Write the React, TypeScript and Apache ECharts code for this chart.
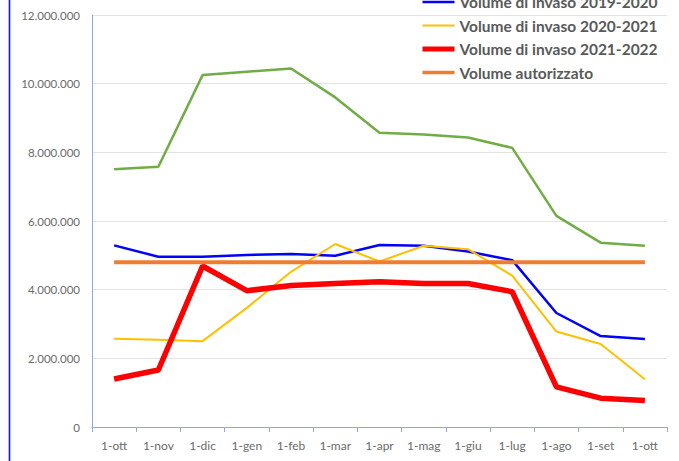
import React, { useEffect, useRef } from "react";
import * as echarts from "echarts";

const categories = ["1-ott", "1-nov", "1-dic", "1-gen", "1-feb", "1-mar", "1-apr", "1-mag", "1-giu", "1-lug", "1-ago", "1-set", "1-ott"];
const green2018 = [7510000, 7580000, 10250000, 10350000, 10440000, 9600000, 8570000, 8520000, 8430000, 8130000, 6150000, 5370000, 5280000];
const blue2019 = [5290000, 4960000, 4960000, 5010000, 5040000, 4990000, 5300000, 5280000, 5110000, 4860000, 3320000, 2650000, 2560000];
const yellow2020 = [2570000, 2540000, 2500000, 3470000, 4520000, 5330000, 4820000, 5280000, 5180000, 4410000, 2780000, 2420000, 1390000];
const red2021 = [1400000, 1660000, 4690000, 3970000, 4120000, 4180000, 4230000, 4180000, 4180000, 3940000, 1170000, 840000, 770000];
const authorized = [4800000, 4800000, 4800000, 4800000, 4800000, 4800000, 4800000, 4800000, 4800000, 4800000, 4800000, 4800000, 4800000];
const legendNames = ["Volume di invaso 2019-2020", "Volume di invaso 2020-2021", "Volume di invaso 2021-2022", "Volume autorizzato"];
const legendWidths = [2.5, 2, 5, 3.5];

const fmt = (v: number) => String(Math.round(v)).replace(/\B(?=(\d{3})+(?!\d))/g, ".");

export default function App() {
  const ref = useRef<HTMLDivElement>(null);
  useEffect(() => {
    if (!ref.current) return;
    const chart = echarts.init(ref.current, null, { renderer: "svg" });
    const font = "Lato, 'Open Sans', sans-serif";
    chart.setOption({
      animation: false,
      backgroundColor: "#ffffff",
      grid: { left: 92, right: 12, top: 15, bottom: 34 },
      legend: {
        orient: "vertical",
        left: 415,
        top: 0,
        padding: [-7, 5, 5, 5],
        itemWidth: 32,
        itemHeight: 18,
        itemGap: 5.5,
        data: legendNames.map((n, i) => ({ name: n, lineStyle: { width: legendWidths[i] } })),
        itemStyle: { opacity: 0 },
        textStyle: { fontFamily: font, fontSize: 15.5, lineHeight: 18, fontWeight: "bold", color: "#595959" },
      },
      graphic: [
        { type: "line", shape: { x1: 9.5, y1: 0, x2: 9.5, y2: 461 }, style: { stroke: "#1010f0", lineWidth: 1.6 } },
      ],
      xAxis: {
        type: "category",
        data: categories,
        boundaryGap: true,
        axisLine: { lineStyle: { color: "#8eaadb", width: 1 } },
        axisTick: { show: true, alignWithLabel: false, length: 5, lineStyle: { color: "#8eaadb" } },
        axisLabel: { color: "#6b6b6b", fontFamily: font, fontSize: 12, margin: 12 },
      },
      yAxis: {
        type: "value",
        min: 0,
        max: 12000000,
        interval: 2000000,
        axisLine: { show: true, lineStyle: { color: "#8eaadb" } },
        axisTick: { show: false },
        splitLine: { lineStyle: { color: "#e3e3e3" } },
        axisLabel: { color: "#6b6b6b", fontFamily: font, fontSize: 11.5, margin: 12, formatter: fmt },
      },
      series: [
        { name: "Volume di invaso 2018-2019", type: "line", data: green2018, symbol: "none", lineStyle: { color: "#70ad47", width: 2.5 }, itemStyle: { color: "#70ad47" } },
        { name: legendNames[0], type: "line", data: blue2019, symbol: "none", lineStyle: { color: "#0000ff", width: 2.5 }, itemStyle: { color: "#0000ff" } },
        { name: legendNames[1], type: "line", data: yellow2020, symbol: "none", lineStyle: { color: "#ffc000", width: 2 }, itemStyle: { color: "#ffc000" } },
        { name: legendNames[2], type: "line", data: red2021, symbol: "none", lineStyle: { color: "#ff0000", width: 5.5 }, itemStyle: { color: "#ff0000" } },
        { name: legendNames[3], type: "line", data: authorized, symbol: "none", lineStyle: { color: "#ed7d31", width: 4 }, itemStyle: { color: "#ed7d31" } },
      ],
    });
    return () => chart.dispose();
  }, []);
  return <div ref={ref} style={{ position: "fixed", left: 0, top: 0, width: 679, height: 461 }} />;
}
